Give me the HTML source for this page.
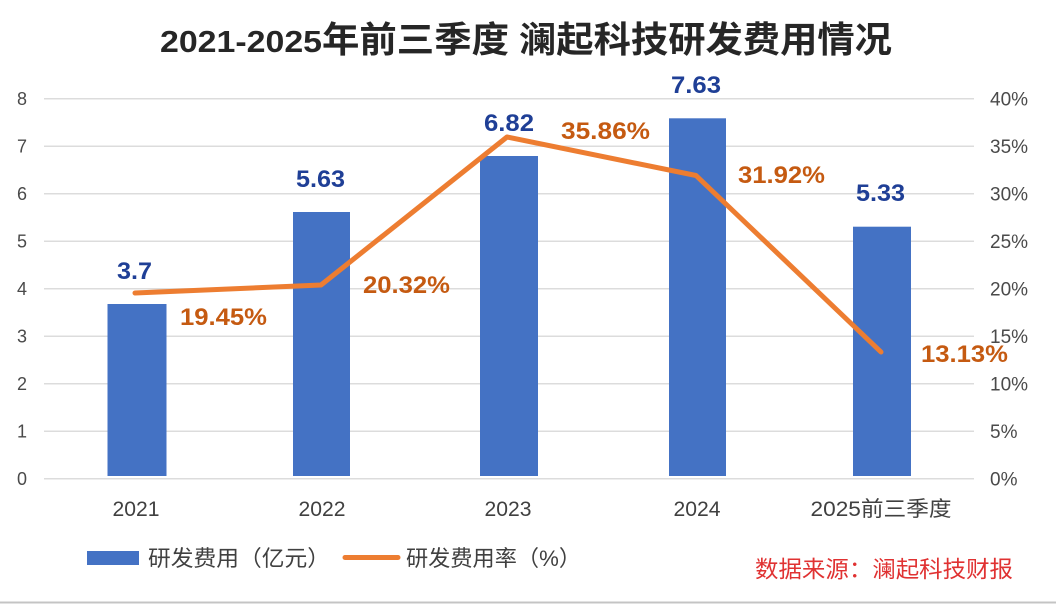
<!DOCTYPE html>
<html>
<head>
<meta charset="utf-8">
<style>
  html,body{margin:0;padding:0;background:#fff;}
  svg{display:block;}
</style>
</head>
<body>
<svg width="1056" height="604" viewBox="0 0 1056 604" xmlns="http://www.w3.org/2000/svg">
  <rect x="0" y="0" width="1056" height="604" fill="#ffffff"/>
  <line x1="0" y1="602.5" x2="1056" y2="602.5" stroke="#c4c4c4" stroke-width="2"/>

  <!-- Title -->
  <g fill="#262626" font-weight="bold">
    <text x="160" y="52" font-family="'Liberation Sans', sans-serif" font-size="31" textLength="162" lengthAdjust="spacingAndGlyphs">2021-2025</text>
    <text x="322" y="52" font-family="'Liberation Sans','Noto Sans CJK SC',sans-serif" font-size="36" textLength="187" lengthAdjust="spacingAndGlyphs">年前三季度</text>
    <text x="519" y="52" font-family="'Liberation Sans','Noto Sans CJK SC',sans-serif" font-size="36" textLength="373" lengthAdjust="spacingAndGlyphs">澜起科技研发费用情况</text>
  </g>

  <!-- Gridlines -->
  <g stroke="#dcdcdc" stroke-width="1.5">
    <line x1="44" y1="98.7" x2="974" y2="98.7"/>
    <line x1="44" y1="146.2" x2="974" y2="146.2"/>
    <line x1="44" y1="193.7" x2="974" y2="193.7"/>
    <line x1="44" y1="241.2" x2="974" y2="241.2"/>
    <line x1="44" y1="288.7" x2="974" y2="288.7"/>
    <line x1="44" y1="336.2" x2="974" y2="336.2"/>
    <line x1="44" y1="383.7" x2="974" y2="383.7"/>
    <line x1="44" y1="431.2" x2="974" y2="431.2"/>
    <line x1="44" y1="478.7" x2="974" y2="478.7"/>
  </g>

  <!-- Left axis labels -->
  <g fill="#4a4a4a" font-family="'Liberation Sans', sans-serif" font-size="18" text-anchor="middle">
    <text x="22" y="105">8</text>
    <text x="22" y="152.5">7</text>
    <text x="22" y="200">6</text>
    <text x="22" y="247.5">5</text>
    <text x="22" y="295">4</text>
    <text x="22" y="342.5">3</text>
    <text x="22" y="390">2</text>
    <text x="22" y="437.5">1</text>
    <text x="22" y="485">0</text>
  </g>

  <!-- Right axis labels -->
  <g fill="#4a4a4a" font-family="'Liberation Sans', sans-serif" font-size="19">
    <text x="990" y="105.5">40%</text>
    <text x="990" y="153">35%</text>
    <text x="990" y="200.5">30%</text>
    <text x="990" y="248">25%</text>
    <text x="990" y="295.5">20%</text>
    <text x="990" y="343">15%</text>
    <text x="990" y="390.5">10%</text>
    <text x="990" y="438">5%</text>
    <text x="990" y="485.5">0%</text>
  </g>

  <!-- Bars -->
  <g fill="#4472C4">
    <rect x="107.5" y="304" width="59" height="172"/>
    <rect x="293" y="212" width="57" height="264"/>
    <rect x="480" y="156" width="58" height="320"/>
    <rect x="669" y="118.3" width="57" height="357.7"/>
    <rect x="853" y="226.7" width="58" height="249.3"/>
  </g>

  <!-- Line -->
  <polyline points="135,293 321,285 507,137 696,175.5 881,352" fill="none" stroke="#ED7D31" stroke-width="5" stroke-linecap="round" stroke-linejoin="round"/>

  <!-- Bar value labels -->
  <g fill="#1F3F96" font-family="'Liberation Sans', sans-serif" font-size="24" font-weight="bold" text-anchor="middle">
    <text x="134.5" y="279" textLength="35" lengthAdjust="spacingAndGlyphs">3.7</text>
    <text x="320.5" y="187" textLength="49" lengthAdjust="spacingAndGlyphs">5.63</text>
    <text x="509" y="131" textLength="50" lengthAdjust="spacingAndGlyphs">6.82</text>
    <text x="696" y="93" textLength="50" lengthAdjust="spacingAndGlyphs">7.63</text>
    <text x="880.5" y="201" textLength="49" lengthAdjust="spacingAndGlyphs">5.33</text>
  </g>

  <!-- Rate labels -->
  <g fill="#C55A11" font-family="'Liberation Sans', sans-serif" font-size="24" font-weight="bold">
    <text x="180" y="325" textLength="87" lengthAdjust="spacingAndGlyphs">19.45%</text>
    <text x="363" y="293" textLength="87" lengthAdjust="spacingAndGlyphs">20.32%</text>
    <text x="561" y="139" textLength="89" lengthAdjust="spacingAndGlyphs">35.86%</text>
    <text x="738" y="183" textLength="87" lengthAdjust="spacingAndGlyphs">31.92%</text>
    <text x="921" y="362" textLength="87" lengthAdjust="spacingAndGlyphs">13.13%</text>
  </g>

  <!-- X axis labels -->
  <g fill="#404040" font-family="'Liberation Sans','Noto Sans CJK SC',sans-serif" font-size="21" text-anchor="middle">
    <text x="136" y="516" textLength="47" lengthAdjust="spacingAndGlyphs">2021</text>
    <text x="322" y="516" textLength="47" lengthAdjust="spacingAndGlyphs">2022</text>
    <text x="508" y="516" textLength="47" lengthAdjust="spacingAndGlyphs">2023</text>
    <text x="697" y="516" textLength="47" lengthAdjust="spacingAndGlyphs">2024</text>
    <text x="881" y="516" textLength="141" lengthAdjust="spacingAndGlyphs">2025前三季度</text>
  </g>

  <!-- Legend -->
  <rect x="87" y="551" width="52" height="14" fill="#4472C4"/>
  <text x="148" y="566" fill="#404040" font-family="'Liberation Sans','Noto Sans CJK SC',sans-serif" font-size="22" textLength="182" lengthAdjust="spacingAndGlyphs">研发费用（亿元）</text>
  <line x1="345" y1="557.5" x2="398" y2="557.5" stroke="#ED7D31" stroke-width="5" stroke-linecap="round"/>
  <text x="406" y="566" fill="#404040" font-family="'Liberation Sans','Noto Sans CJK SC',sans-serif" font-size="22" textLength="175" lengthAdjust="spacingAndGlyphs">研发费用率（%）</text>

  <!-- Source -->
  <text x="755" y="577" fill="#E03232" font-family="'Liberation Sans','Noto Sans CJK SC',sans-serif" font-size="23" textLength="258" lengthAdjust="spacingAndGlyphs">数据来源：澜起科技财报</text>
</svg>
</body>
</html>
